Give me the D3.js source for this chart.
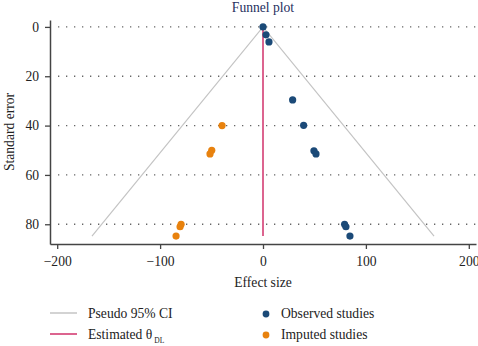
<!DOCTYPE html>
<html>
<head>
<meta charset="utf-8">
<script src="https://cdn.jsdelivr.net/npm/d3@7/dist/d3.min.js"></script>
<style>
  body { margin: 0; background: #fff; }
  svg { display: block; font-family: "Liberation Serif", "DejaVu Serif", serif; }
</style>
</head>
<body>
<script>
  // Chart size
  const w = 478;
  const h = 346;

  // Data
  const observedEffect = [0, 2.9, 5.8, 28.8, 39.5, 49.5, 51.5, 79.3, 80.6, 84.5];
  const observedSE     = [0, 3.2, 6.1, 29.6, 39.9, 50.2, 51.5, 80.0, 81.0, 84.8];
  const imputedEffect  = [-39.8, -49.8, -51.5, -79.6, -80.6, -84.5];
  const imputedSE      = [40.0, 50.0, 51.5, 80.0, 81.0, 84.8];
  const thetaDL = 0;
  const maxSE = 84.8;
  const xTicks = [-200, -100, 0, 100, 200];
  const yTicks = [0, 20, 40, 60, 80];

  // Scales
  const x = d3.scaleLinear().domain([-207, 207]).range([50, 476]);
  const y = d3.scaleLinear().domain([-2.8, 88]).range([20, 244]);

  const fs = 13.6; // font size

  const svg = d3.select("body").append("svg")
    .attr("width", w)
    .attr("height", h);

  // Title
  svg.append("text")
    .attr("x", x(0)).attr("y", 12)
    .attr("text-anchor", "middle")
    .attr("font-size", fs)
    .attr("fill", "#1f3060")
    .text("Funnel plot");

  // Gridlines (dotted)
  svg.append("g").selectAll("line")
    .data(yTicks)
    .enter().append("line")
    .attr("x1", 58).attr("x2", 476)
    .attr("y1", d => y(d)).attr("y2", d => y(d))
    .attr("stroke", "#666")
    .attr("stroke-width", 1.3)
    .attr("stroke-dasharray", "1.3,6.7");

  // Pseudo 95% CI funnel
  const funnel = [[thetaDL - 1.96 * maxSE, maxSE], [thetaDL, 0], [thetaDL + 1.96 * maxSE, maxSE]];
  svg.append("path")
    .attr("d", d3.line().x(d => x(d[0])).y(d => y(d[1]))(funnel))
    .attr("fill", "none")
    .attr("stroke", "#c4c4c4")
    .attr("stroke-width", 1.2);

  // Estimated theta line
  svg.append("line")
    .attr("x1", x(thetaDL)).attr("x2", x(thetaDL))
    .attr("y1", y(0)).attr("y2", y(maxSE))
    .attr("stroke", "#d0306a")
    .attr("stroke-width", 1.5);

  // Points
  const observed = observedEffect.map((d, i) => ({ e: d, se: observedSE[i] }));
  const imputed = imputedEffect.map((d, i) => ({ e: d, se: imputedSE[i] }));

  svg.append("g").selectAll("circle")
    .data(imputed)
    .enter().append("circle")
    .attr("cx", d => x(d.e)).attr("cy", d => y(d.se))
    .attr("r", 3.6)
    .attr("fill", "#e8820e");

  svg.append("g").selectAll("circle")
    .data(observed)
    .enter().append("circle")
    .attr("cx", d => x(d.e)).attr("cy", d => y(d.se))
    .attr("r", 3.6)
    .attr("fill", "#1b4a78");

  // Axes
  const fmt = d => d < 0 ? "\u2212" + Math.abs(d) : String(d);
  const xAxis = svg.append("g")
    .attr("transform", "translate(0," + 244 + ")")
    .call(d3.axisBottom(x).tickValues(xTicks).tickFormat(fmt).tickSize(5).tickSizeOuter(0));
  const yAxis = svg.append("g")
    .attr("transform", "translate(" + 50 + ",0)")
    .call(d3.axisLeft(y).tickValues(yTicks).tickSize(5).tickSizeOuter(0));

  [xAxis, yAxis].forEach(a => {
    a.select(".domain").attr("stroke", "#444").attr("stroke-width", 1.5);
    a.selectAll(".tick line").attr("stroke", "#444").attr("stroke-width", 1.3);
    a.selectAll("text").attr("font-size", fs).attr("fill", "#222")
      .attr("font-family", "Liberation Serif, serif");
  });
  xAxis.selectAll("text").attr("dy", "1.05em");
  yAxis.selectAll("text").attr("x", -11);

  // Axis titles
  svg.append("text")
    .attr("x", x(0)).attr("y", 287)
    .attr("text-anchor", "middle")
    .attr("font-size", fs).attr("fill", "#222")
    .text("Effect size");
  svg.append("text")
    .attr("transform", "translate(14," + 132 + ") rotate(-90)")
    .attr("text-anchor", "middle")
    .attr("font-size", fs).attr("fill", "#222")
    .text("Standard error");

  // Legend
  const legend = svg.append("g").attr("font-size", fs).attr("fill", "#222");
  const lineItems = [
    { label: "Pseudo 95% CI", color: "#c4c4c4", y: 313 },
    { label: "Estimated \u03B8", sub: "DL", color: "#d0306a", y: 334 }
  ];
  const dotItems = [
    { label: "Observed studies", color: "#1b4a78", y: 313 },
    { label: "Imputed studies", color: "#e8820e", y: 334 }
  ];
  lineItems.forEach(d => {
    legend.append("line")
      .attr("x1", 50).attr("x2", 77)
      .attr("y1", d.y).attr("y2", d.y)
      .attr("stroke", d.color).attr("stroke-width", 1.5);
    const t = legend.append("text").attr("x", 88).attr("y", d.y + 4.5).text(d.label);
    if (d.sub) {
      t.append("tspan").attr("font-size", 7.5).attr("dx", 2).attr("dy", 4.5).text(d.sub);
    }
  });
  dotItems.forEach(d => {
    legend.append("circle")
      .attr("cx", 266).attr("cy", d.y + 1)
      .attr("r", 3.4).attr("fill", d.color);
    legend.append("text").attr("x", 281).attr("y", d.y + 4.5).text(d.label);
  });
</script>
</body>
</html>
